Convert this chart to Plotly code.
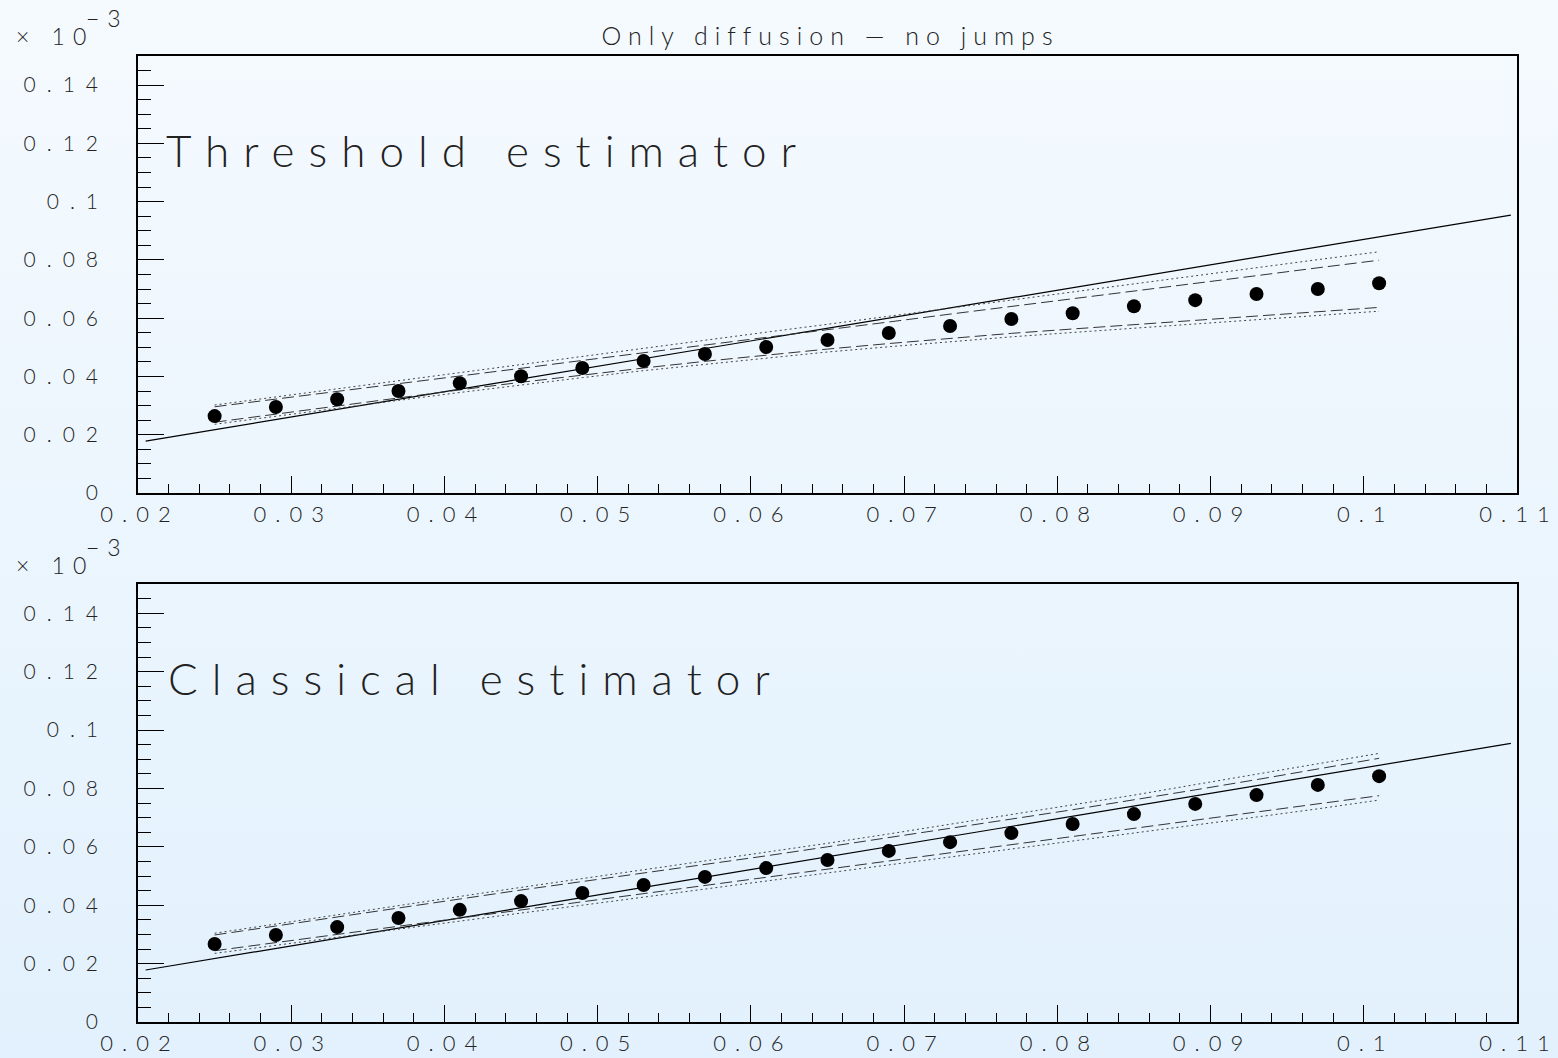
import base64
import plotly.graph_objects as go

# ---------------- data (values in units of 1e-3) ----------------
x_pts = [0.025, 0.029, 0.033, 0.037, 0.041, 0.045, 0.049, 0.053, 0.057, 0.061,
         0.065, 0.069, 0.073, 0.077, 0.081, 0.085, 0.089, 0.093, 0.097, 0.101]

true_x = [0.0205, 0.1096]
true_y = [0.0178, 0.0954]

thr_points = [0.0264, 0.0295, 0.0322, 0.0350, 0.0377, 0.0401, 0.0429, 0.0453, 0.0477, 0.0501,
              0.0525, 0.0549, 0.0573, 0.0597, 0.0617, 0.0641, 0.0662, 0.0683, 0.0700, 0.0720]
thr_dash_hi = [0.0296, 0.0322, 0.0349, 0.0375, 0.0402, 0.0428, 0.0455, 0.0481, 0.0508, 0.0534,
               0.0561, 0.0587, 0.0614, 0.0640, 0.0667, 0.0693, 0.0720, 0.0746, 0.0773, 0.0799]
thr_dot_hi = [0.0302, 0.0330, 0.0357, 0.0385, 0.0413, 0.0441, 0.0468, 0.0496, 0.0524, 0.0552,
              0.0579, 0.0607, 0.0635, 0.0662, 0.0690, 0.0718, 0.0745, 0.0773, 0.0801, 0.0828]
thr_dash_lo = [0.0243, 0.0271, 0.0299, 0.0326, 0.0354, 0.0380, 0.0405, 0.0429, 0.0452, 0.0474,
               0.0494, 0.0513, 0.0531, 0.0548, 0.0563, 0.0578, 0.0593, 0.0608, 0.0622, 0.0637]
thr_dot_lo = [0.0236, 0.0264, 0.0291, 0.0318, 0.0345, 0.0371, 0.0396, 0.0420, 0.0442, 0.0464,
              0.0484, 0.0502, 0.0520, 0.0536, 0.0551, 0.0566, 0.0580, 0.0595, 0.0609, 0.0624]

cls_points = [0.0267, 0.0298, 0.0325, 0.0356, 0.0384, 0.0414, 0.0442, 0.0469, 0.0497, 0.0527,
              0.0555, 0.0586, 0.0616, 0.0647, 0.0678, 0.0712, 0.0747, 0.0777, 0.0812, 0.0842]
cls_dash_hi = [0.0298, 0.0329, 0.0360, 0.0391, 0.0422, 0.0452, 0.0481, 0.0510, 0.0540, 0.0569,
               0.0600, 0.0631, 0.0663, 0.0695, 0.0727, 0.0760, 0.0795, 0.0830, 0.0866, 0.0903]
cls_dot_hi = [0.0304, 0.0336, 0.0367, 0.0399, 0.0430, 0.0461, 0.0491, 0.0520, 0.0551, 0.0581,
              0.0612, 0.0644, 0.0677, 0.0710, 0.0743, 0.0777, 0.0813, 0.0849, 0.0885, 0.0920]
cls_dash_lo = [0.0244, 0.0272, 0.0300, 0.0328, 0.0356, 0.0384, 0.0412, 0.0440, 0.0468, 0.0496,
               0.0524, 0.0552, 0.0580, 0.0607, 0.0635, 0.0663, 0.0691, 0.0719, 0.0747, 0.0775]
cls_dot_lo = [0.0235, 0.0263, 0.0290, 0.0318, 0.0345, 0.0373, 0.0400, 0.0428, 0.0455, 0.0483,
              0.0510, 0.0538, 0.0565, 0.0592, 0.0620, 0.0647, 0.0675, 0.0702, 0.0730, 0.0760]

title_text = "Only diffusion — no jumps"
panel_labels = ["Threshold estimator", "Classical estimator"]
exp_base = "× 10"
exp_power = "−3"

# ---------------- layout geometry ----------------
W, H = 1558, 1058
FONT = "Lato"
x_dom = [138 / W, 1517 / W]
y_dom_top = [1 - 493 / H, 1 - 56 / H]
y_dom_bot = [1 - 1022 / H, 1 - 584 / H]

fig = go.Figure()

def add_panel(xa, ya, pts, dhi, dlo, ohi, olo):
    fig.add_trace(go.Scatter(x=true_x, y=true_y, mode="lines", xaxis=xa, yaxis=ya,
                             line=dict(color="black", width=1.2), showlegend=False))
    for arr in (dhi, dlo):
        fig.add_trace(go.Scatter(x=x_pts, y=arr, mode="lines", xaxis=xa, yaxis=ya,
                                 line=dict(color="#333333", width=1, dash="12px,5px"),
                                 showlegend=False))
    for arr in (ohi, olo):
        fig.add_trace(go.Scatter(x=x_pts, y=arr, mode="lines", xaxis=xa, yaxis=ya,
                                 line=dict(color="#444444", width=1, dash="2px,3px"),
                                 showlegend=False))
    fig.add_trace(go.Scatter(x=x_pts, y=pts, mode="markers", xaxis=xa, yaxis=ya,
                             marker=dict(color="black", size=14, line=dict(width=0)),
                             showlegend=False))

add_panel("x", "y", thr_points, thr_dash_hi, thr_dash_lo, thr_dot_hi, thr_dot_lo)
add_panel("x2", "y2", cls_points, cls_dash_hi, cls_dash_lo, cls_dot_hi, cls_dot_lo)

TXT = "#222222"

def xaxis_cfg(anchor):
    return dict(domain=x_dom, anchor=anchor, range=[0.02, 0.11], tick0=0.02, dtick=0.01,
                ticks="inside", ticklen=17, tickwidth=1.3, tickcolor="black",
                showline=True, linecolor="black", linewidth=1.6, mirror=True,
                showgrid=False, zeroline=False, automargin=False,
                tickfont=dict(family=FONT, size=22, color=TXT, weight=300),
                minor=dict(dtick=0.002, ticks="inside", ticklen=9, tickwidth=1.3,
                           tickcolor="black", showgrid=False),
                ticklabelstandoff=1)

def yaxis_cfg(anchor, dom):
    return dict(domain=dom, anchor=anchor, range=[0, 0.15], tick0=0, dtick=0.02,
                ticks="inside", ticklen=26, tickwidth=1.3, tickcolor="black",
                showline=True, linecolor="black", linewidth=1.6, mirror=True,
                showgrid=False, zeroline=False, automargin=False,
                tickfont=dict(family=FONT, size=21, color=TXT, weight=300),
                minor=dict(dtick=0.005, ticks="inside", ticklen=13, tickwidth=1.3,
                           tickcolor="black", showgrid=False),
                ticklabelstandoff=23)

svg = ('<svg xmlns="http://www.w3.org/2000/svg" width="10" height="100" preserveAspectRatio="none">'
       '<defs><linearGradient id="g" x1="0" y1="0" x2="0" y2="1">'
       '<stop offset="0" stop-color="#f5fafe"/><stop offset="1" stop-color="#e2f1fd"/>'
       '</linearGradient></defs><rect width="10" height="100" fill="url(#g)"/></svg>')
bg_src = "data:image/svg+xml;base64," + base64.b64encode(svg.encode()).decode()

big = dict(family=FONT, size=44, color=TXT, weight=300)
small = dict(family=FONT, size=23, color=TXT, weight=300)

def ann(text, x, y, font):
    return dict(text=text, xref="paper", yref="paper", x=x / W, y=1 - y / H,
                xanchor="left", yanchor="middle", align="left", showarrow=False, font=font)

annotations = [
    ann(panel_labels[0], 164, 150, big),
    ann(panel_labels[1], 166, 678, big),
    ann(exp_base, 14, 36, small),
    ann(exp_power, 84, 18, small),
    ann(exp_base, 14, 565, small),
    ann(exp_power, 84, 547, small),
]

fig.update_layout(
    width=W, height=H, margin=dict(l=0, r=0, t=0, b=0, pad=0, autoexpand=False),
    paper_bgcolor="rgba(0,0,0,0)", plot_bgcolor="rgba(0,0,0,0)",
    xaxis=xaxis_cfg("y"), yaxis=yaxis_cfg("x", y_dom_top),
    xaxis2=xaxis_cfg("y2"), yaxis2=yaxis_cfg("x2", y_dom_bot),
    title=dict(text=title_text, x=(x_dom[0] + x_dom[1]) / 2, xref="paper", xanchor="center",
               y=1 - 36 / H, yref="container", yanchor="middle", automargin=False,
               font=dict(family=FONT, size=25, color=TXT, weight=300)),
    annotations=annotations,
    images=[dict(source=bg_src, xref="paper", yref="paper", x=0, y=1, sizex=1, sizey=1,
                 xanchor="left", yanchor="top", sizing="stretch", layer="below")],
    showlegend=False,
)

post = """
var gd = document.getElementById('{plot_id}');
var st = document.createElement('style');
st.textContent = '.xtick text, .x2tick text{letter-spacing:9px;} '
  + '.ytick text, .y2tick text{letter-spacing:11px;} '
  + '.gtitle{letter-spacing:7px;} .annotation-text{letter-spacing:8px;}';
document.head.appendChild(st);
function fix(){
  gd.querySelectorAll('.xtick text, .x2tick text').forEach(function(t){ t.setAttribute('dx','2'); });
  gd.querySelectorAll('.gtitle').forEach(function(t){ t.setAttribute('dx','3'); });
  gd.querySelectorAll('.annotation-text').forEach(function(t){
    if (parseFloat(t.style.fontSize) > 30) { t.style.letterSpacing = '14px'; }
  });
}
fix();
gd.on('plotly_afterplot', fix);
"""

fig.write_html("out.html", config={"displayModeBar": False}, post_script=post)
